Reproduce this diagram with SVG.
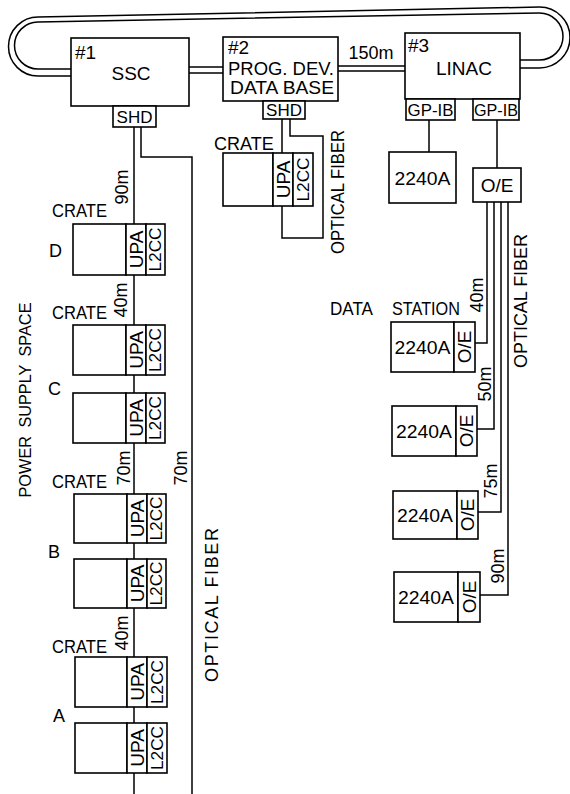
<svg xmlns="http://www.w3.org/2000/svg" width="570" height="794" viewBox="0 0 570 794">
<style>
.b{fill:#fff;stroke:#000;stroke-width:1.6}
.l{fill:none;stroke:#000;stroke-width:1.5}
text{font-family:"Liberation Sans",Arial,sans-serif;font-size:18px;fill:#000}
.s{font-size:17px}
.r{text-anchor:middle}
</style>
<rect width="570" height="794" fill="#fff"/>
<g id="connectors">
<path class="l" d="M71,76 H38 A29.5,29.5 0 0 1 38,17 L539.5,7 A30.5,30.5 0 0 1 539.5,68 H520"/>
<path class="l" d="M71,69 H38 A23.5,23.5 0 0 1 38,22 L539.5,13 A23.5,23.5 0 0 1 539.5,60 H520"/>
<path class="l" d="M189,67 H223 M189,73 H223"/>
<path class="l" d="M338,66 H405 M338,71 H405"/>
<path class="l" d="M134,127 V224 M134,275 V325 M134,375 V393 M134,443 V494 M134,543 V559 M134,608 V657 M134,707 V723 M134,773 V794"/>
<path class="l" d="M141,127 V157 H192 V794"/>
<path class="l" d="M282,118 V153 M282,206 V238 H323 V136 H290 V118"/>
<path class="l" d="M429,120 V152 M497,120 V168"/>
<path class="l" d="M487,202 V343 H475 M494,202 V429 H477 M501,202 V512 H478 M508,202 V595 H480"/>
</g>
<g id="ssc">
<rect class="b" x="71" y="38" width="118" height="68"/>
<text x="75" y="59" style="font-size:19px">#1</text>
<text x="131" y="80" class="r" style="font-size:19px">SSC</text>
</g>
<g id="ssc-shd">
<rect class="b" x="113" y="106" width="43" height="21"/>
<text x="134.5" y="123" class="r s">SHD</text>
</g>
<g id="progdev">
<rect class="b" x="223" y="37" width="115" height="64"/>
<text x="228" y="54" style="font-size:19px">#2</text>
<text x="281" y="75" class="r" textLength="106" lengthAdjust="spacingAndGlyphs">PROG. DEV.</text>
<text x="282" y="94" class="r" textLength="104" lengthAdjust="spacingAndGlyphs">DATA BASE</text>
</g>
<g id="progdev-shd">
<rect class="b" x="263" y="101" width="42" height="18"/>
<text x="284" y="116" class="r s">SHD</text>
</g>
<g id="linac">
<rect class="b" x="405" y="33" width="115" height="66"/>
<text x="408" y="52" style="font-size:19px">#3</text>
<text x="464" y="75" class="r" style="font-size:19px">LINAC</text>
<text x="371" y="59" class="r">150m</text>
</g>
<g id="gpib1">
<rect class="b" x="406" y="99" width="49" height="21"/>
<text x="430.5" y="116" class="r s" textLength="46" lengthAdjust="spacingAndGlyphs">GP-IB</text>
</g>
<g id="gpib2">
<rect class="b" x="473" y="99" width="46" height="21"/>
<text x="496" y="116" class="r s" textLength="44" lengthAdjust="spacingAndGlyphs">GP-IB</text>
</g>
<g id="linac-2240a">
<rect class="b" x="389" y="152" width="67" height="51"/>
<text x="422.5" y="185" class="r" textLength="56" lengthAdjust="spacingAndGlyphs">2240A</text>
</g>
<g id="oe-main">
<rect class="b" x="473" y="168" width="48" height="34"/>
<text x="497" y="192" class="r" style="font-size:19px">O/E</text>
</g>
<g id="crate-progdev">
<text x="214" y="150">CRATE</text>
<rect class="b" x="223" y="153" width="50" height="53"/>
<rect class="b" x="273" y="153" width="20" height="53"/>
<rect class="b" x="293" y="153" width="20" height="53"/>
<text transform="translate(283,179.5) rotate(-90)" dy="0.35em" class="r" style="font-size:19px">UPA</text>
<text transform="translate(303,179.5) rotate(-90)" dy="0.35em" class="r s" textLength="44" lengthAdjust="spacingAndGlyphs">L2CC</text>
</g>
<g id="crate-d">
<rect class="b" x="73" y="224" width="53" height="51"/>
<rect class="b" x="126" y="224" width="20" height="51"/>
<rect class="b" x="146" y="224" width="19" height="51"/>
<text transform="translate(136,249.5) rotate(-90)" dy="0.35em" class="r" style="font-size:19px">UPA</text>
<text transform="translate(155.5,249.5) rotate(-90)" dy="0.35em" class="r s" textLength="44" lengthAdjust="spacingAndGlyphs">L2CC</text>
</g>
<g id="crate-c1">
<rect class="b" x="73" y="325" width="53" height="50"/>
<rect class="b" x="126" y="325" width="20" height="50"/>
<rect class="b" x="146" y="325" width="19" height="50"/>
<text transform="translate(136,350) rotate(-90)" dy="0.35em" class="r" style="font-size:19px">UPA</text>
<text transform="translate(155.5,350) rotate(-90)" dy="0.35em" class="r s" textLength="44" lengthAdjust="spacingAndGlyphs">L2CC</text>
</g>
<g id="crate-c2">
<rect class="b" x="73" y="393" width="53" height="50"/>
<rect class="b" x="126" y="393" width="20" height="50"/>
<rect class="b" x="146" y="393" width="19" height="50"/>
<text transform="translate(136,418) rotate(-90)" dy="0.35em" class="r" style="font-size:19px">UPA</text>
<text transform="translate(155.5,418) rotate(-90)" dy="0.35em" class="r s" textLength="44" lengthAdjust="spacingAndGlyphs">L2CC</text>
</g>
<g id="crate-b1">
<rect class="b" x="74" y="494" width="53" height="49"/>
<rect class="b" x="127" y="494" width="20" height="49"/>
<rect class="b" x="147" y="494" width="19" height="49"/>
<text transform="translate(137,518.5) rotate(-90)" dy="0.35em" class="r" style="font-size:19px">UPA</text>
<text transform="translate(156.5,518.5) rotate(-90)" dy="0.35em" class="r s" textLength="44" lengthAdjust="spacingAndGlyphs">L2CC</text>
</g>
<g id="crate-b2">
<rect class="b" x="74" y="559" width="53" height="49"/>
<rect class="b" x="127" y="559" width="20" height="49"/>
<rect class="b" x="147" y="559" width="19" height="49"/>
<text transform="translate(137,583.5) rotate(-90)" dy="0.35em" class="r" style="font-size:19px">UPA</text>
<text transform="translate(156.5,583.5) rotate(-90)" dy="0.35em" class="r s" textLength="44" lengthAdjust="spacingAndGlyphs">L2CC</text>
</g>
<g id="crate-a1">
<rect class="b" x="75" y="657" width="52" height="50"/>
<rect class="b" x="127" y="657" width="20" height="50"/>
<rect class="b" x="147" y="657" width="20" height="50"/>
<text transform="translate(137,682) rotate(-90)" dy="0.35em" class="r" style="font-size:19px">UPA</text>
<text transform="translate(157,682) rotate(-90)" dy="0.35em" class="r s" textLength="44" lengthAdjust="spacingAndGlyphs">L2CC</text>
</g>
<g id="crate-a2">
<rect class="b" x="75" y="723" width="52" height="50"/>
<rect class="b" x="127" y="723" width="20" height="50"/>
<rect class="b" x="147" y="723" width="20" height="50"/>
<text transform="translate(137,748) rotate(-90)" dy="0.35em" class="r" style="font-size:19px">UPA</text>
<text transform="translate(157,748) rotate(-90)" dy="0.35em" class="r s" textLength="44" lengthAdjust="spacingAndGlyphs">L2CC</text>
</g>
<g id="station1">
<rect class="b" x="391" y="322" width="63" height="50"/>
<rect class="b" x="454" y="322" width="21" height="50"/>
<text x="422.5" y="354" class="r" textLength="56" lengthAdjust="spacingAndGlyphs">2240A</text>
<text transform="translate(464.5,347) rotate(-90)" dy="0.35em" class="r" style="font-size:19px">O/E</text>
</g>
<g id="station2">
<rect class="b" x="392" y="406" width="64" height="50"/>
<rect class="b" x="456" y="406" width="21" height="50"/>
<text x="424" y="438" class="r" textLength="56" lengthAdjust="spacingAndGlyphs">2240A</text>
<text transform="translate(466.5,431) rotate(-90)" dy="0.35em" class="r" style="font-size:19px">O/E</text>
</g>
<g id="station3">
<rect class="b" x="393" y="491" width="64" height="48"/>
<rect class="b" x="457" y="491" width="21" height="48"/>
<text x="425" y="522" class="r" textLength="56" lengthAdjust="spacingAndGlyphs">2240A</text>
<text transform="translate(467.5,515) rotate(-90)" dy="0.35em" class="r" style="font-size:19px">O/E</text>
</g>
<g id="station4">
<rect class="b" x="394" y="572" width="64" height="50"/>
<rect class="b" x="458" y="572" width="22" height="50"/>
<text x="426" y="604" class="r" textLength="56" lengthAdjust="spacingAndGlyphs">2240A</text>
<text transform="translate(469,597) rotate(-90)" dy="0.35em" class="r" style="font-size:19px">O/E</text>
</g>
<g id="labels">
<text x="52" y="217" textLength="55" lengthAdjust="spacingAndGlyphs">CRATE</text>
<text x="52" y="319" textLength="55" lengthAdjust="spacingAndGlyphs">CRATE</text>
<text x="52" y="488" textLength="55" lengthAdjust="spacingAndGlyphs">CRATE</text>
<text x="52" y="653" textLength="55" lengthAdjust="spacingAndGlyphs">CRATE</text>
<text x="49" y="257">D</text>
<text x="48" y="395">C</text>
<text x="48" y="558">B</text>
<text x="53" y="722">A</text>
<text transform="translate(122,187) rotate(-90)" dy="0.35em" class="r">90m</text>
<text transform="translate(121,300) rotate(-90)" dy="0.35em" class="r">40m</text>
<text transform="translate(124,468) rotate(-90)" dy="0.35em" class="r">70m</text>
<text transform="translate(181,468) rotate(-90)" dy="0.35em" class="r">70m</text>
<text transform="translate(122,633) rotate(-90)" dy="0.35em" class="r">40m</text>
<text transform="translate(212,605) rotate(-90)" dy="0.35em" class="r" textLength="154">OPTICAL FIBER</text>
<text transform="translate(25,400) rotate(-90)" dy="0.35em" class="r" style="font-size:17px;word-spacing:4px" textLength="195" lengthAdjust="spacingAndGlyphs">POWER  SUPPLY  SPACE</text>
<text transform="translate(338,192) rotate(-90)" dy="0.35em" class="r" textLength="124" lengthAdjust="spacingAndGlyphs">OPTICAL FIBER</text>
<text transform="translate(521,301) rotate(-90)" dy="0.35em" class="r" textLength="134" lengthAdjust="spacingAndGlyphs">OPTICAL FIBER</text>
<text x="330" y="315" textLength="43" lengthAdjust="spacingAndGlyphs">DATA</text>
<text x="392" y="315" textLength="68" lengthAdjust="spacingAndGlyphs">STATION</text>
<text transform="translate(477,295) rotate(-90)" dy="0.35em" class="r">40m</text>
<text transform="translate(485,384) rotate(-90)" dy="0.35em" class="r">50m</text>
<text transform="translate(491,481) rotate(-90)" dy="0.35em" class="r">75m</text>
<text transform="translate(498,566) rotate(-90)" dy="0.35em" class="r">90m</text>
</g>
</svg>
